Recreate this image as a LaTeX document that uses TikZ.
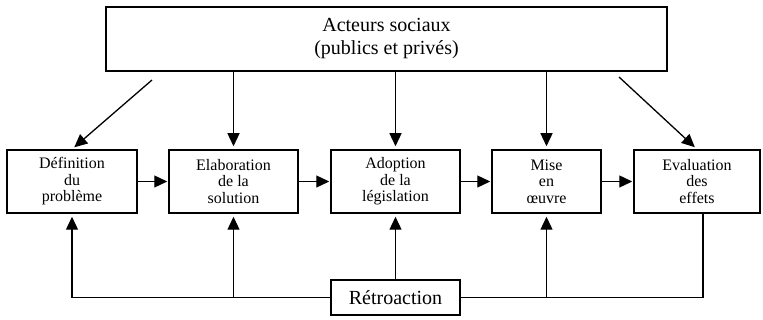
\documentclass[tikz,border=0pt]{standalone}
\usepackage{fontspec}
\setmainfont{Liberation Serif}
\usetikzlibrary{arrows.meta}

\begin{document}
\begin{tikzpicture}[x=1pt, y=-1pt,
    box/.style={rectangle, draw, line width=1.5pt, align=center, inner sep=0pt, minimum height=63pt, font=\fontsize{16}{16.5}\selectfont},
    arr/.style={-{Triangle[length=13pt, width=12pt]}, line width=1.3pt, shorten >=3pt},
    link/.style={line width=1.3pt}]
    \useasboundingbox (0,0) rectangle (763,320);
    \node[box, minimum width=561pt, minimum height=64pt, font=\fontsize{20}{23}\selectfont] (actors) at (386.5,39) {Acteurs sociaux\\(publics et privés)};
    \node[box, minimum width=130pt] (def) at (72,181.5) {Définition\\du\\problème};
    \node[box, minimum width=129pt] (elab) at (233.5,181.5) {Elaboration\\de la\\solution};
    \node[box, minimum width=129pt] (adop) at (395.5,181.5) {Adoption\\de la\\législation};
    \node[box, minimum width=109pt] (mise) at (546.5,181.5) {Mise\\en\\œuvre};
    \node[box, minimum width=126pt] (eval) at (697,181.5) {Evaluation\\des\\effets};
    \node[box, minimum width=129pt, minimum height=35pt, font=\fontsize{20}{23}\selectfont] (retro) at (395.5,297.5) {Rétroaction};
    \coordinate (a1) at (152,80);
    \coordinate (a5) at (619,77);
    \coordinate (ev) at (703,213);
    \draw[arr] (a1) -- (def.north);
    \draw[arr] (elab|-actors.south) -- (elab.north);
    \draw[arr] (adop|-actors.south) -- (adop.north);
    \draw[arr] (mise|-actors.south) -- (mise.north);
    \draw[arr] (a5) -- (eval.north);
    \draw[arr, shorten >=1pt] (def) -- (elab);
    \draw[arr, shorten >=1pt] (elab) -- (adop);
    \draw[arr, shorten >=1pt] (adop) -- (mise);
    \draw[arr, shorten >=1pt] (mise) -- (eval);
    \draw[arr] (retro.west) -| (def.south);
    \draw[arr] (elab|-retro) -- (elab.south);
    \draw[arr] (retro.north) -- (adop.south);
    \draw[arr] (mise|-retro) -- (mise.south);
    \draw[link] (retro.east) -| (ev);
\end{tikzpicture}
\end{document}
